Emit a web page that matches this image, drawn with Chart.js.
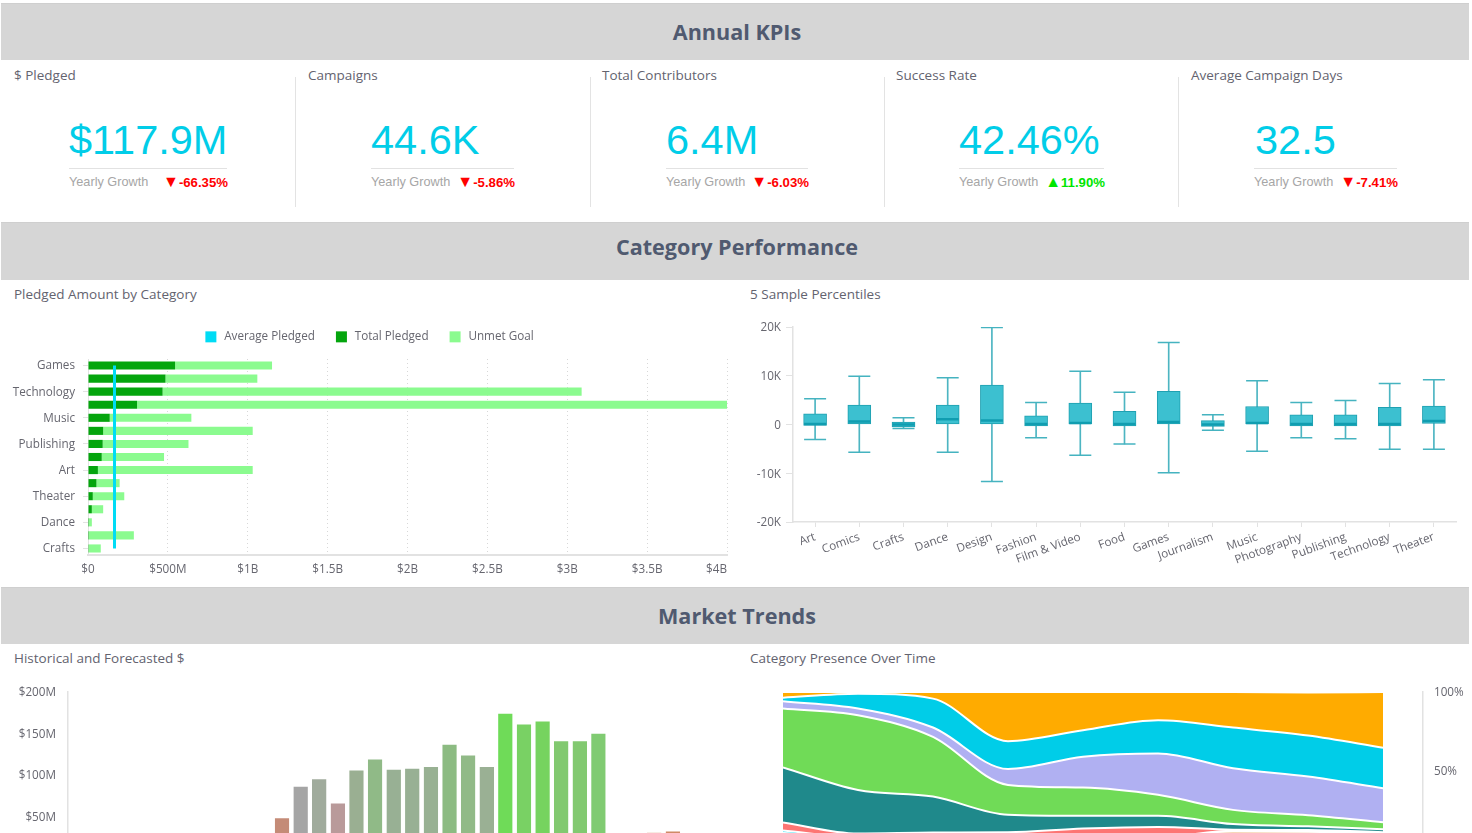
<!DOCTYPE html>
<html><head><meta charset="utf-8">
<script src="https://cdn.jsdelivr.net/npm/chart.js@4/dist/chart.umd.min.js"></script>
<style>
html,body{margin:0;padding:0;width:1472px;height:833px;overflow:hidden;background:#fff}
body{position:relative;font-family:"Open Sans",sans-serif}
.band{position:absolute;left:1px;width:1468px;padding-left:4px;background:#d6d6d6;border-top:1px solid #cfcfcf;box-sizing:border-box;text-align:center;color:#505a70;font-weight:700;font-size:21.6px}
.lab{position:absolute;font-size:13.5px;line-height:18px;color:#63636f;white-space:nowrap}
.sep{position:absolute;width:1px;background:#e3e3e3;top:77px;height:130px}
.big{position:absolute;top:120px;font:41.5px/40px "Liberation Sans",Arial,sans-serif;color:#01cde8;white-space:nowrap}
.rule{position:absolute;top:168px;height:1px;background:#e2e2e2}
.yg{position:absolute;top:174px;font:12.7px/16px "Liberation Sans",Arial,sans-serif;color:#a6a6a6;white-space:nowrap}
.gr{position:absolute;top:174px;font:bold 13.2px/16px "Liberation Sans",Arial,sans-serif;white-space:nowrap;text-align:right}
.gr span{font-size:16px;line-height:16px}
.cv{position:absolute;display:block}
</style></head><body>
<script>
// ---------- text ----------
const sectionTitles = ["Annual KPIs", "Category Performance", "Market Trends"];
const kpiNames = ["$ Pledged", "Campaigns", "Total Contributors", "Success Rate", "Average Campaign Days"];
const kpiValues = ["$117.9M", "44.6K", "6.4M", "42.46%", "32.5"];
const kpiGrowth = ["▼-66.35%", "▼-5.86%", "▼-6.03%", "▲11.90%", "▼-7.41%"];
const growthLabel = "Yearly Growth";

// ---------- Pledged Amount by Category ($M) ----------
const pledgeCategories = ["Games","Design","Technology","Film & Video","Music","Fashion","Publishing","Food","Art","Comics","Theater","Photography","Dance","Journalism","Crafts"];
const totalPledged = [545,485,467,307,136,95,92,86,62,53,30,24,6,6,5];
const unmetGoal = [607,575,2623,3693,511,936,537,390,969,145,197,71,18,281,75];
const averagePledged = [166,166,166,166,166,166,166,166,166,166,166,166,166,166,166];
const pledgeTicks = [0,500,1000,1500,2000,2500,3000,3500,4000];

// ---------- 5 Sample Percentiles ----------
const boxCategories = ["Art","Comics","Crafts","Dance","Design","Fashion","Film & Video","Food","Games","Journalism","Music","Photography","Publishing","Technology","Theater"];
const boxLow = [-3100,-5700,-800,-5700,-11700,-2700,-6300,-4000,-9900,-1200,-5500,-2700,-2900,-5100,-5100];
const boxQ1 = [-200,0,-500,0,0,-300,0,-300,0,-400,0,-300,-300,-300,200];
const boxMedian = [100,600,0,1100,800,100,300,100,500,0,300,100,100,100,700];
const boxQ3 = [2200,4000,500,4000,8100,1800,4400,2700,6800,800,3700,2000,2000,3500,3800];
const boxHigh = [5300,9900,1400,9600,19900,4500,10900,6600,16800,2000,9000,4500,4900,8400,9200];

// ---------- Historical and Forecasted $ ($M) ----------
const historyPeriods = ["P1","P2","P3","P4","P5","P6","P7","P8","P9","P10","P11","P12","P13","P14","P15","P16","P17","P18","P19","P20","P21","P22","P23","P24","P25","P26","P27","P28","P29","P30","P31","P32","P33","P34","P35","P36"];
const historyValues = [null,null,null,null,null,null,null,null,null,null,31,49,87,96,67,106.7,120,107.6,108.8,110.8,137.7,124.8,110.8,175,162,165.8,142,142,151,null,null,31.5,33,null,null,null];
const historyColors = ["#ddd","#ddd","#ddd","#ddd","#ddd","#ddd","#ddd","#ddd","#ddd","#ddd","#e8e0dc","#c48b77","#a5a5a5","#a0ab9c","#b99a9a","#9aaf92","#90ba87","#98b094","#98b094","#98b193","#8cbb82","#91ba87","#9ab094","#6fdb58","#79d164","#76d35f","#82c970","#82c970","#80cb72","#ddd","#ddd","#e0b08e","#cf8a66","#ddd","#ddd","#ddd"];

// ---------- Category Presence Over Time (% share, bottom to top) ----------
const presenceYears = [2009,2010,2011,2012,2013,2014,2015,2016,2017];
const presencePeach = [10.8,7.5,7.5,7.5,7.5,7.5,11.9,11.5,10.5];
const presenceSmallCyan = [1.5,0.5,0.5,0.5,0.5,0.5,0.3,0.3,0.3];
const presenceRed = [5.1,2.4,3,3.2,5.6,6.6,0.6,0.8,0.5];
const presenceTeal = [34.9,27.6,22.8,11.1,8,7,3.6,2.4,1.9];
const presenceGreen = [37.2,47.3,37.8,18.9,17.9,13.3,9,7,4.4];
const presenceLavender = [4.6,4.2,5.9,10.1,19.5,26.2,26.3,24.5,21.5];
const presenceCyan = [2.3,9.4,18.3,17.6,16.8,21,25.8,25.9,25.6];
const presenceOrange = [3.6,1.1,4.2,31.1,24.2,17.9,22.5,27.3,35.3];

// ---------- page furniture ----------
function add(cls, css, text){const d=document.createElement('div');d.className=cls;Object.assign(d.style,css);if(text!==undefined)d.textContent=text;document.body.appendChild(d);return d;}
const bandTops=[3,222,587], bandHeights=[57,58,57], bandLine=[55,47,55];
sectionTitles.forEach((t,i)=>add('band',{top:bandTops[i]+'px',height:bandHeights[i]+'px',lineHeight:bandLine[i]+'px'},t));
const kpiLabelX=[14,308,602,896,1191], sepX=[295,590,884,1178];
const bigX=[69,371,666,959,1255], ruleL=[69,371,666,959,1254], ruleR=[227,514,808,1104,1397];
kpiNames.forEach((n,i)=>{
  add('lab',{left:kpiLabelX[i]+'px',top:'66px'},n);
  add('big',{left:bigX[i]+'px'},kpiValues[i]);
  add('rule',{left:ruleL[i]+'px',width:(ruleR[i]-ruleL[i])+'px'});
  add('yg',{left:ruleL[i]+'px'},growthLabel);
  const g=add('gr',{right:(1472-ruleR[i]-1)+'px',color:kpiGrowth[i][0]==='▲'?'#00e600':'#ff0000'});
  const tri=document.createElement('span');tri.textContent=kpiGrowth[i][0];g.appendChild(tri);
  g.appendChild(document.createTextNode(kpiGrowth[i].slice(1)));
});
sepX.forEach(x=>add('sep',{left:x+'px'}));
add('lab',{left:'14px',top:'285px'},"Pledged Amount by Category");
add('lab',{left:'750px',top:'285px'},"5 Sample Percentiles");
add('lab',{left:'14px',top:'649px'},"Historical and Forecasted $");
add('lab',{left:'750px',top:'649px'},"Category Presence Over Time");
function canvas(l,t,w,h){const c=document.createElement('canvas');c.className='cv';c.width=w;c.height=h;c.style.left=l+'px';c.style.top=t+'px';c.style.width=w+'px';c.style.height=h+'px';document.body.appendChild(c);return c;}

Chart.defaults.font.family='"Open Sans",sans-serif';
Chart.defaults.font.size=11.7;
Chart.defaults.color='#66666f';
Chart.defaults.animation=false;
Chart.defaults.responsive=false;
Chart.register({id:'nudgeYLabels',beforeDraw(chart){const s=chart.scales.y;const d=chart.options.indexAxis==='y'?0.5:1;if(s)s.getLabelItems().forEach(it=>{it.options.translation[1]+=d;});}});
const axisLine='#e2e2e2';

// ---------- chart 1 ----------
const money=v=>v===0?'$0':(v>=1000?'$'+(v/1000)+'B':'$'+v+'M');
new Chart(canvas(0,300,740,285),{
  type:'bar',
  data:{labels:pledgeCategories,datasets:[
    {type:'line',label:'Average Pledged',data:averagePledged,borderColor:'#00dcf5',backgroundColor:'#00dcf5',borderWidth:3,pointRadius:0,stack:'avg',order:0},
    {label:'Total Pledged',data:totalPledged,backgroundColor:'#04a50d',stack:'a',order:1,barPercentage:.62,categoryPercentage:1},
    {label:'Unmet Goal',data:unmetGoal,backgroundColor:'#8bfb8f',stack:'a',order:2,barPercentage:.62,categoryPercentage:1}
  ]},
  options:{indexAxis:'y',layout:{padding:{top:10,right:13,left:0,bottom:0}},
    plugins:{legend:{position:'top',labels:{boxWidth:11,boxHeight:11,padding:21,
        generateLabels:c=>Chart.defaults.plugins.legend.labels.generateLabels(c).map(l=>Object.assign(l,{lineWidth:0,text:'\u2009'+l.text}))}},tooltip:{enabled:false}},
    scales:{
      x:{stacked:true,min:0,max:4000,afterBuildTicks:s=>{s.ticks=pledgeTicks.map(v=>({value:v}));},afterFit:s=>{s.height=30;s.paddingRight=0;s.paddingLeft=0;},
        ticks:{callback:money,maxRotation:0,padding:8,autoSkip:false},
        border:{color:axisLine,width:2,dash:[1,3]},grid:{color:'#d8d8d8',drawTicks:false,tickLength:0}},
      y:{stacked:true,afterFit:s=>{s.width=88;},offset:true,
        ticks:{autoSkip:false,padding:8,callback:function(v,i){return i%2?'':this.getLabelForValue(v);}},
        border:{color:axisLine},grid:{offset:false,drawOnChartArea:false,tickLength:5,tickColor:c=>c.index%2?'rgba(0,0,0,0)':'#e2e2e2'}}
    }},
  plugins:[{id:'fixLegendAndTick',
    beforeLayout(chart){const lg=chart.legend;if(lg&&!lg.__p){lg.__p=1;const f=lg.fit;lg.fit=function(){f.call(this);this.height=49;};}},
    beforeDraw(chart){chart.legend.right=739;const it=chart.scales.x.getLabelItems();if(it.length)it[it.length-1].options.textAlign='right';}}]
});

// ---------- chart 2 ----------
const tup=(a,b)=>a.map((v,i)=>[v,b[i]]);
const boxDark='#1fa0b1';
const capSet=(d,o)=>({type:'line',data:d,showLine:false,pointStyle:'line',pointRadius:11,pointBorderWidth:1.5,pointBorderColor:'#45b3c0',pointBackgroundColor:'#45b3c0',order:o});
new Chart(canvas(740,300,732,285),{
  type:'bar',
  data:{labels:boxCategories,datasets:[
    {data:tup(boxLow,boxHigh),backgroundColor:'#4db5c2',barThickness:1,grouped:false,order:4},
    {data:tup(boxQ1,boxQ3),backgroundColor:'#3cc0d0',borderColor:boxDark,borderWidth:1,borderSkipped:false,barThickness:23,grouped:false,order:3},
    capSet(boxLow,2),capSet(boxHigh,2),
    {type:'line',data:boxMedian,showLine:false,pointStyle:'line',pointRadius:11,pointBorderWidth:2.5,pointBorderColor:'#109db0',order:1}
  ]},
  options:{layout:{padding:{top:27,right:16}},plugins:{legend:{display:false},tooltip:{enabled:false}},
    scales:{
      x:{afterFit:s=>{s.height=63;},ticks:{minRotation:20,maxRotation:20,autoSkip:false,padding:3},border:{color:axisLine,width:1.5},grid:{offset:false,drawOnChartArea:false,tickLength:5,color:axisLine}},
      y:{min:-20000,max:20000,afterFit:s=>{s.width=53;},afterBuildTicks:s=>{s.ticks=[-20000,-10000,0,10000,20000].map(v=>({value:v}));},
        ticks:{callback:v=>v===0?'0':(v/1000)+'K',padding:5},border:{color:axisLine,width:1.5},grid:{drawOnChartArea:false,tickLength:7,color:axisLine}}
    }}
});

// ---------- chart 3 ----------
new Chart(canvas(0,670,740,220),{
  type:'bar',
  data:{labels:historyPeriods,datasets:[{data:historyValues,backgroundColor:historyColors,borderColor:'rgba(255,255,255,.35)',borderWidth:{top:1,left:0,right:0,bottom:0},borderSkipped:false,barPercentage:.78,categoryPercentage:1}]},
  options:{layout:{padding:{top:22,right:2}},plugins:{legend:{display:false},tooltip:{enabled:false}},
    scales:{
      x:{afterFit:s=>{s.height=32;},ticks:{display:false},border:{color:axisLine},grid:{display:false}},
      y:{min:0,max:200,afterFit:s=>{s.width=68;},afterBuildTicks:s=>{s.ticks=[0,50,100,150,200].map(v=>({value:v}));},
        ticks:{callback:money,padding:12},border:{color:axisLine,width:1.5},grid:{drawOnChartArea:false,drawTicks:false,tickLength:0}}
    }}
});

// ---------- chart 4 ----------
const band=(label,data,color,fill)=>({label,data:data.map((v,i)=>({x:presenceYears[i],y:v})),backgroundColor:color,borderColor:'#fff',borderWidth:2,pointRadius:0,fill,cubicInterpolationMode:'monotone'});
new Chart(canvas(740,670,732,220),{
  type:'line',
  data:{datasets:[
    band('Peach',presencePeach,'#f3c9a0','origin'),
    band('Small cyan',presenceSmallCyan,'#00dcf5','-1'),
    band('Red',presenceRed,'#fd7573','-1'),
    band('Teal',presenceTeal,'#1f898b','-1'),
    band('Green',presenceGreen,'#70db57','-1'),
    band('Lavender',presenceLavender,'#b0b0f2','-1'),
    band('Cyan',presenceCyan,'#00cde8','-1'),
    band('Orange',presenceOrange,'#ffab00','-1')
  ]},
  options:{layout:{padding:{left:43,top:22,bottom:40}},plugins:{legend:{display:false},tooltip:{enabled:false}},
    scales:{
      x:{type:'linear',display:false,min:2009,max:2017.533},
      y:{position:'right',stacked:true,min:0,max:100,afterFit:s=>{s.width=49;},afterBuildTicks:s=>{s.ticks=[0,50,100].map(v=>({value:v}));},
        ticks:{callback:v=>v+'%',padding:11},border:{color:axisLine,width:1.5},grid:{drawOnChartArea:false,drawTicks:false,tickLength:0}}
    }}
});
</script>
</body></html>
